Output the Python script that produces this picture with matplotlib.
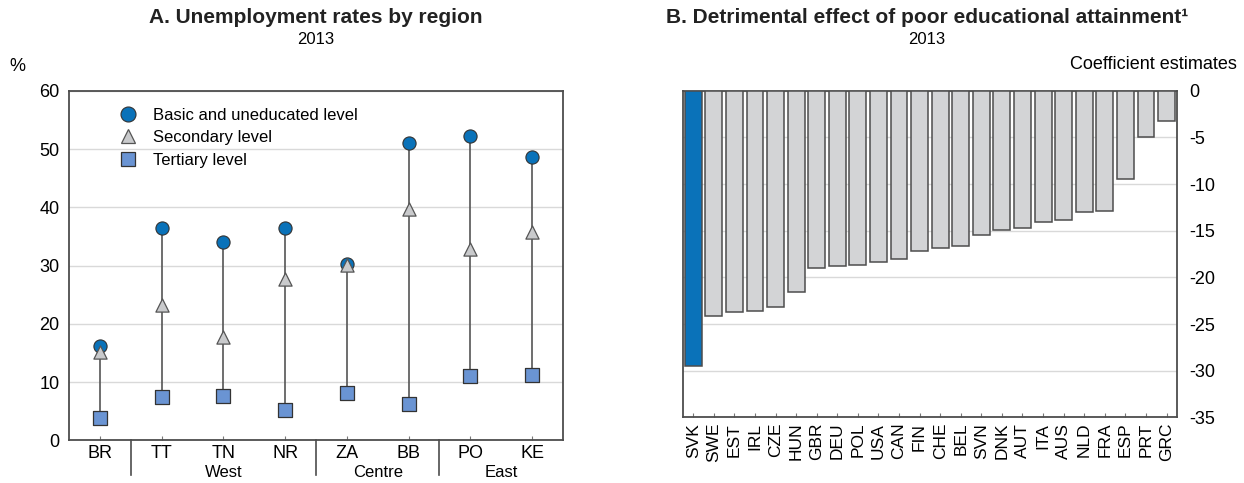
import matplotlib.pyplot as plt
import numpy as np
from matplotlib.lines import Line2D

plt.rcParams['font.family'] = ['Liberation Sans', 'DejaVu Sans']
plt.rcParams['axes.unicode_minus'] = False

# panel A
regions = ['BR', 'TT', 'TN', 'NR', 'ZA', 'BB', 'PO', 'KE']
basic = [16.2, 36.4, 34.0, 36.4, 30.3, 51.1, 52.3, 48.7]
secondary = [15.2, 23.3, 17.7, 27.8, 30.1, 39.7, 32.8, 35.8]
tertiary = [3.8, 7.5, 7.6, 5.3, 8.1, 6.3, 11.1, 11.2]
groups = ['West', 'Centre', 'East']
group_span = [(1, 3), (4, 5), (6, 7)]
separators = [0.5, 3.5, 5.5]

# panel B
countries = ['SVK', 'SWE', 'EST', 'IRL', 'CZE', 'HUN', 'GBR', 'DEU', 'POL', 'USA',
             'CAN', 'FIN', 'CHE', 'BEL', 'SVN', 'DNK', 'AUT', 'ITA', 'AUS', 'NLD',
             'FRA', 'ESP', 'PRT', 'GRC']
coef = [-29.5, -24.1, -23.7, -23.6, -23.2, -21.6, -19.0, -18.8, -18.7, -18.3,
        -18.0, -17.2, -16.8, -16.6, -15.5, -14.9, -14.7, -14.1, -13.9, -13.0,
        -12.9, -9.5, -4.9, -3.2]

blue = '#0a72b9'
sq_blue = '#6a94d3'
tri_gray = '#c9cacc'
grid_c = '#d9d9d9'
spine_c = '#4d4d4d'

fig = plt.figure(figsize=(12.44, 4.83), dpi=100)

# ---- A ----
ax = fig.add_axes([0.0555, 0.088, 0.397, 0.7236])
x = np.arange(len(regions))
lo = np.minimum(np.minimum(basic, secondary), tertiary)
hi = np.maximum(np.maximum(basic, secondary), tertiary)
ax.vlines(x, lo, hi, color='#555555', lw=1.2, zorder=2)
ax.scatter(x, basic, s=90, marker='o', color=blue, edgecolor='#333333', lw=0.8, zorder=3)
ax.scatter(x, secondary, s=90, marker='^', color=tri_gray, edgecolor='#555555', lw=0.9, zorder=4)
ax.scatter(x, tertiary, s=88, marker='s', color=sq_blue, edgecolor='#333333', lw=0.9, zorder=4)
ax.set_xlim(-0.5, 7.5)
ax.set_ylim(0, 60)
ax.set_yticks(range(0, 61, 10))
ax.set_xticks(x)
ax.set_xticklabels(regions)
ax.yaxis.grid(True, color=grid_c, lw=1)
ax.set_axisbelow(True)
ax.tick_params(axis='y', length=0, labelsize=13, pad=7)
ax.tick_params(axis='x', direction='in', length=3, labelsize=13, color='#777777', pad=3)
for s in ax.spines.values():
    s.set_color(spine_c)
    s.set_linewidth(1.3)
for sx in separators:
    ax.plot([sx, sx], [0, -0.1], transform=ax.get_xaxis_transform(), color=spine_c,
            lw=1.2, clip_on=False)
for g, (a, b) in zip(groups, group_span):
    ax.text((a + b) / 2, -0.093, g, transform=ax.get_xaxis_transform(),
            ha='center', va='center', fontsize=12)
handles = [
    Line2D([], [], ls='', marker='o', ms=10.8, mfc=blue, mec='#333333', mew=0.8),
    Line2D([], [], ls='', marker='^', ms=10, mfc=tri_gray, mec='#555555', mew=0.9),
    Line2D([], [], ls='', marker='s', ms=10, mfc=sq_blue, mec='#333333', mew=0.9),
]
ax.legend(handles, ['Basic and uneducated level', 'Secondary level', 'Tertiary level'],
          loc='upper left', bbox_to_anchor=(0.055, 0.995), frameon=False, fontsize=12,
          handletextpad=0.5, labelspacing=0.45)
fig.text(0.0137, 0.862, '%', fontsize=13, ha='center', va='center')
fig.text(0.254, 0.963, 'A. Unemployment rates by region', fontsize=15, fontweight='bold',
         ha='center', va='center', color='#222222')
fig.text(0.254, 0.918, '2013', fontsize=12, ha='center', va='center')

# ---- B ----
bx = fig.add_axes([0.549, 0.136, 0.397, 0.676])
xb = np.arange(len(countries))
colors = [blue] + ['#d3d4d6'] * (len(countries) - 1)
bx.bar(xb, coef, width=0.82, color=colors, edgecolor=spine_c, lw=1.1, zorder=3)
bx.set_xlim(-0.5, len(countries) - 0.5)
bx.set_ylim(-35, 0)
bx.set_yticks(range(-35, 1, 5))
bx.yaxis.tick_right()
bx.set_xticks(xb)
bx.set_xticklabels(countries, rotation=90)
bx.yaxis.grid(True, color=grid_c, lw=1)
bx.set_axisbelow(True)
bx.tick_params(axis='y', length=0, labelsize=13, pad=9)
bx.tick_params(axis='x', direction='in', length=3, labelsize=12.5, color='#777777', pad=4)
for s in bx.spines.values():
    s.set_color(spine_c)
    s.set_linewidth(1.3)
fig.text(0.994, 0.867, 'Coefficient estimates', fontsize=13, ha='right', va='center')
fig.text(0.745, 0.963, 'B. Detrimental effect of poor educational attainment\u00b9',
         fontsize=15, fontweight='bold', ha='center', va='center', color='#222222')
fig.text(0.745, 0.918, '2013', fontsize=12, ha='center', va='center')

fig.savefig('out.png', dpi=100)
